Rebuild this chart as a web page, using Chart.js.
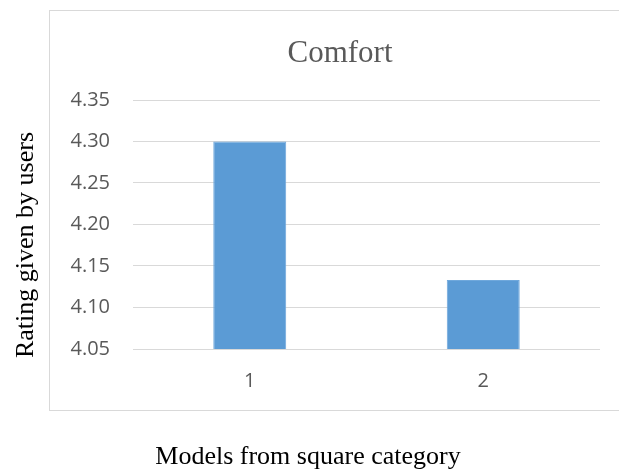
<!DOCTYPE html>
<html>
<head>
<meta charset="utf-8">
<script src="https://cdn.jsdelivr.net/npm/chart.js@4"></script>
<style>
  html, body { margin: 0; padding: 0; background: #fff; }
  #wrap { width: 619px; height: 470px; }
</style>
</head>
<body>
<div id="wrap"><canvas id="myChart"></canvas></div>
<script>
const categories = ["1", "2"];
const ratings = [4.30, 4.133];
const yTicks = [4.05, 4.10, 4.15, 4.20, 4.25, 4.30, 4.35];

const chartTitle = "Comfort";
const xTitle = "Models from square category";
const yTitle = "Rating given by users";

// frame + titles drawn around the plot, like the office chart
const decor = {
  id: "decor",
  beforeDraw(chart) {
    const ctx = chart.ctx;
    ctx.save();
    ctx.fillStyle = "#fff";
    ctx.fillRect(0, 0, chart.width, chart.height);
    ctx.strokeStyle = "#d9d9d9";
    ctx.lineWidth = 1;
    ctx.strokeRect(49.5, 10.5, 570, 400);
    ctx.restore();
  },
  afterDraw(chart) {
    const ctx = chart.ctx;
    ctx.save();
    ctx.textAlign = "center";
    ctx.textBaseline = "alphabetic";
    ctx.fillStyle = "#595959";
    ctx.font = "31px 'Liberation Serif', 'Times New Roman', serif";
    ctx.fillText(chartTitle, 340, 62);

    ctx.fillStyle = "#000";
    ctx.font = "26px 'Liberation Serif', 'Times New Roman', serif";
    ctx.fillText(xTitle, 308, 464);

    ctx.translate(33, 245);
    ctx.rotate(-Math.PI / 2);
    ctx.fillText(yTitle, 0, 0);
    ctx.restore();
  },
};

const ctx = document.getElementById("myChart").getContext("2d");
const comfortChart = new Chart(ctx, {
  type: "bar",
  data: {
    labels: categories,
    datasets: [
      {
        data: ratings,
        backgroundColor: "#5b9bd5",
        borderColor: "#6fa8dc",
        borderWidth: 1,
        categoryPercentage: 0.5,
        barPercentage: 0.625,
      },
    ],
  },
  options: {
    responsive: true,
    maintainAspectRatio: false,
    animation: false,
    layout: { padding: { left: 0, right: 19, top: 100, bottom: 0 } },
    plugins: {
      legend: { display: false },
      title: { display: false },
      tooltip: { enabled: false },
    },
    scales: {
      x: {
        grid: { display: false },
        border: { display: false },
        ticks: {
          color: "#595959",
          font: { family: "'Open Sans', sans-serif", size: 20 },
          padding: 12,
        },
        afterFit(scale) {
          scale.height = 121;
        },
      },
      y: {
        min: 4.05,
        max: 4.35,
        afterBuildTicks(scale) {
          scale.ticks = yTicks.map((v) => ({ value: v }));
        },
        grid: { color: "#d9d9d9", lineWidth: 1, drawTicks: false },
        border: { display: false },
        ticks: {
          color: "#595959",
          font: { family: "'Open Sans', sans-serif", size: 20 },
          padding: 23,
          callback: (v) => Number(v).toFixed(2),
        },
        afterFit(scale) {
          scale.width = 133;
        },
      },
    },
  },
  plugins: [decor],
});
</script>
</body>
</html>
